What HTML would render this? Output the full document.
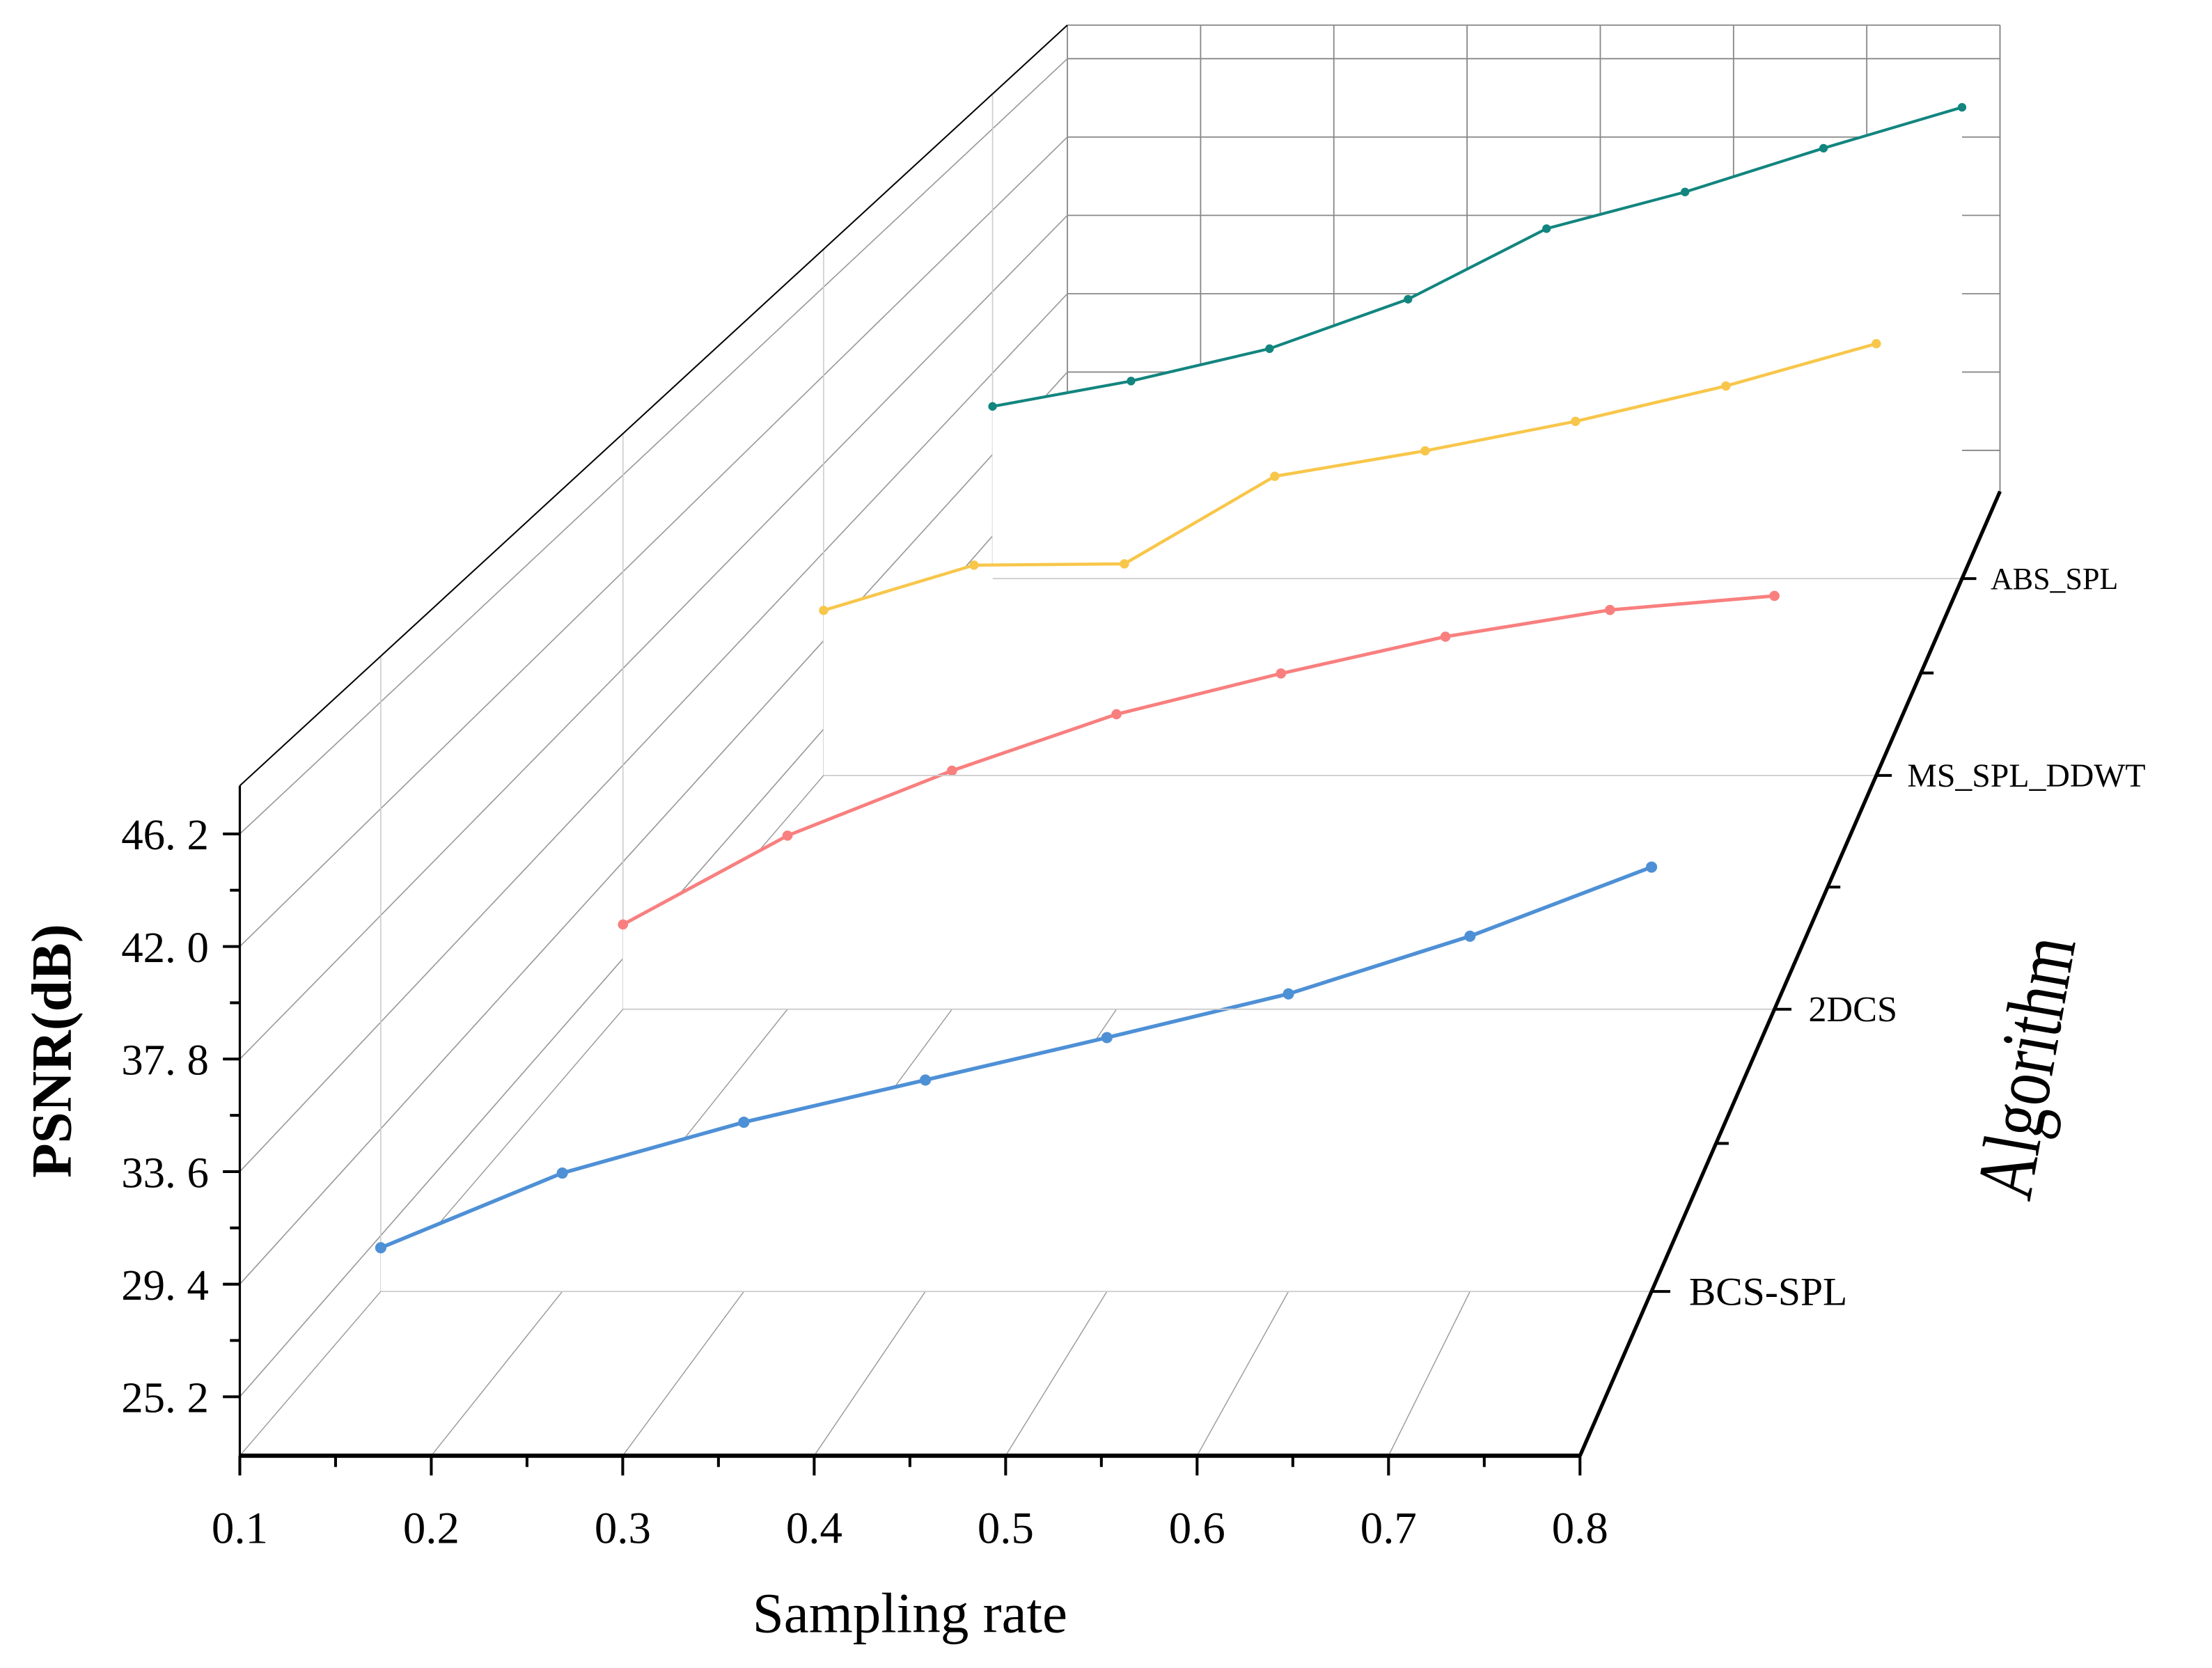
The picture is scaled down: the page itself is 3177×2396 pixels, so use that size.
<!DOCTYPE html>
<html><head><meta charset="utf-8"><style>
html,body{margin:0;padding:0;background:#fff;}
svg{display:block;}
text{font-family:"Liberation Serif","DejaVu Serif",serif;fill:#000;}
</style></head><body>
<svg id="chart" xmlns="http://www.w3.org/2000/svg" width="3177" height="2396" viewBox="0 0 1568 1182.5" preserveAspectRatio="none">
<g id="grid"></g>
<g id="walls"></g>
<g id="axes"></g>
<text x="645" y="1157" font-size="40" text-anchor="middle">Sampling rate</text>
<text transform="translate(50,745) rotate(-90)" font-size="40" font-weight="bold" text-anchor="middle">PSNR(dB)</text>
<text transform="translate(1455,760) rotate(-80) scale(0.9,1.15)" font-size="50" text-anchor="middle">Algorithm</text>
</svg>
<script>
const samplingRates = [0.1,0.2,0.3,0.4,0.5,0.6,0.7,0.8];
const algorithms = ["BCS-SPL","2DCS","MS_SPL_DDWT","ABS_SPL"];
const bcsSpl = [24.72,27.66,29.66,31.32,32.99,34.71,36.98,39.7];
const dcs2 = [26.68,30.54,33.36,35.81,37.58,39.18,40.34,40.95];
const msSplDdwt = [30.84,32.99,33.05,37.21,38.42,39.82,41.5,43.51];
const absSpl = [31.88,33.19,34.86,37.41,41.05,42.94,45.2,47.31];
const yTicks = [25.2,29.4,33.6,37.8,42.0,46.2];
const yTickLabels = ["25. 2","29. 4","33. 6","37. 8","42. 0","46. 2"];
const xTickLabels = ["0.1","0.2","0.3","0.4","0.5","0.6","0.7","0.8"];

const NS="http://www.w3.org/2000/svg";
const X0=170,X1=1120,YB=1032,YT=557, VPX=2099,VPY=-1216, A=0.437;
const XMIN=0.1,XMAX=0.8,YMIN=23,YMAX=48;
function P(x,y,w){
  const u=(x-XMIN)/(XMAX-XMIN), v=(y-YMIN)/(YMAX-YMIN);
  const fx=X0+(X1-X0)*u, fy=YB-(YB-YT)*v;
  const s=1/(1+A*w);
  return [VPX+(fx-VPX)*s, VPY+(fy-VPY)*s];
}
function mk(tag,attrs,parent){const e=document.createElementNS(NS,tag);for(const k in attrs)e.setAttribute(k,attrs[k]);parent.appendChild(e);return e;}
function line(a,b,stroke,sw,parent,name){
  const e=mk('line',{x1:a[0],y1:a[1],x2:b[0],y2:b[1],stroke:stroke,'stroke-width':sw},parent);
  
  
  return e;
}
const grid=document.getElementById('grid'), walls=document.getElementById('walls'), axes=document.getElementById('axes');
const catDepth=i=>(i+0.5)/algorithms.length;

samplingRates.forEach(x=>line(P(x,YMIN,1),P(x,YMAX,1),'#888',0.9,grid,'back-wall-vgrid'));
yTicks.forEach(y=>line(P(XMIN,y,1),P(XMAX,y,1),'#888',0.9,grid,'back-wall-hgrid'));
line(P(XMIN,YMAX,1),P(XMAX,YMAX,1),'#888',0.9,grid,'back-wall-top');
line(P(XMAX,YMIN,1),P(XMAX,YMAX,1),'#888',0.9,grid,'back-wall-right');
yTicks.forEach(y=>line(P(XMIN,y,0),P(XMIN,y,1),'#999',0.8,grid,'left-wall-grid'));
algorithms.forEach((a,i)=>line(P(XMIN,YMIN,catDepth(i)),P(XMIN,YMAX,catDepth(i)),'#ccc',0.8,grid,'left-wall-vgrid'));
samplingRates.forEach(x=>line(P(x,YMIN,0),P(x,YMIN,1),'#999',0.7,grid,'floor-grid'));

const series=[bcsSpl,dcs2,msSplDdwt,absSpl];
const colors=['#4e90d6','#f97f7f','#f8c64a','#12857f'];
const names=['series-bcs-spl','series-2dcs','series-ms-spl-ddwt','series-abs-spl'];
for(let i=series.length-1;i>=0;i--){
  const w=catDepth(i), d=series[i];
  const pts=samplingRates.map((x,j)=>P(x,d[j],w));
  const poly=[P(XMIN,YMIN,w),...pts,P(XMAX,YMIN,w)];
  const g=mk('g',{},walls);
  
  
  const f=mk('polygon',{points:poly.map(p=>p.join(',')).join(' '),fill:'#fff',stroke:'none'},g);
  
  
  const pl=mk('polyline',{points:pts.map(p=>p.join(',')).join(' '),fill:'none',stroke:colors[i],'stroke-width':2.8*(1/(1+A*w))},g);
  
  
  pts.forEach(p=>{
    const c=mk('circle',{cx:p[0],cy:p[1],r:4.2/(1+A*w),fill:colors[i]},g);
    
    
  });
}
algorithms.forEach((a,i)=>line(P(XMIN,YMIN,catDepth(i)),P(XMAX,YMIN,catDepth(i)),'#ccc',0.9,axes,'category-floor-line'));

line(P(XMIN,YMIN,0),P(XMAX,YMIN,0),'#000',3,axes,'x-axis-line');
line(P(XMIN,YMIN,0),P(XMIN,YMAX,0),'#000',1.6,axes,'y-axis-line');
line(P(XMAX,YMIN,0),P(XMAX,YMIN,1),'#000',2.6,axes,'z-axis-line');
line(P(XMIN,YMAX,0),P(XMIN,YMAX,1),'#000',1,axes,'top-left-edge');
samplingRates.forEach((x,j)=>{
  const p=P(x,YMIN,0);
  line(p,[p[0],p[1]+14],'#000',2,axes,'x-tick');
  if(j<samplingRates.length-1){const q=P(x+0.05,YMIN,0);line(q,[q[0],q[1]+8],'#000',2,axes,'x-minor-tick');}
  const t=mk('text',{x:p[0],y:p[1]+62,'font-size':32,'text-anchor':'middle'},axes);
  t.textContent=xTickLabels[j];
  
  
});
yTicks.forEach((y,j)=>{
  const p=P(XMIN,y,0);
  line(p,[p[0]-12,p[1]],'#000',2,axes,'y-tick');
  const q=P(XMIN,y+2.1,0);
  if(q[1]>YT) line(q,[q[0]-7,q[1]],'#000',2,axes,'y-minor-tick');
  const t=mk('text',{x:p[0]-22,y:p[1]+11,'font-size':31,'text-anchor':'end'},axes);
  t.textContent=yTickLabels[j];
  
  
});
algorithms.forEach((a,i)=>{
  const w=catDepth(i), s=1/(1+A*w);
  const p=P(XMAX,YMIN,w);
  line(p,[p[0]+14*s,p[1]],'#000',2,axes,'z-tick');
  if(i>0){const q=P(XMAX,YMIN,i/algorithms.length);line(q,[q[0]+9,q[1]],'#000',2,axes,'z-minor-tick');}
  const t=mk('text',{x:p[0]+28*s,y:p[1]+10*s,'font-size':30*s},axes);
  t.textContent=a;
  
  
});
</script>
</body></html>
